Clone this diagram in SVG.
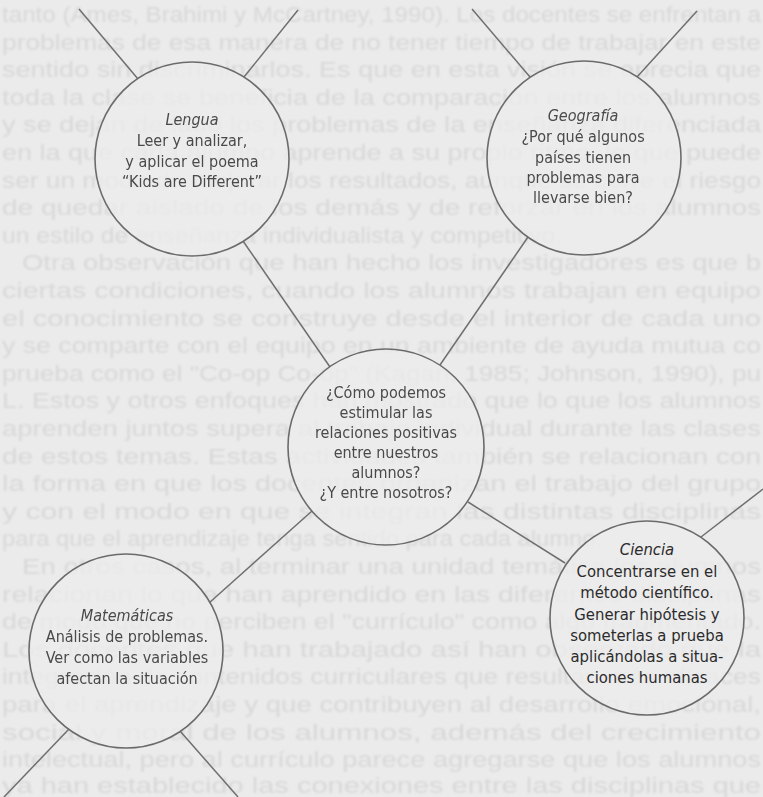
<svg xmlns="http://www.w3.org/2000/svg" width="763" height="797" viewBox="0 0 763 797">
<defs>
<style>
.bg{font-family:"Liberation Sans",Arial,sans-serif;font-size:22px;fill:#d8d8d8}
.ring{fill:#ececec;fill-opacity:0.75;stroke:#6b6b6b;stroke-width:1.6}
.edge{stroke:#6f6f6f;stroke-width:1.5;fill:none}
.lbl{font-family:"DejaVu Sans Condensed","DejaVu Sans",sans-serif;font-stretch:condensed;font-size:16px;fill:#4a4a4a;text-anchor:middle}
.lbl2{font-family:"DejaVu Sans Condensed","DejaVu Sans",sans-serif;font-stretch:condensed;font-size:16.5px;fill:#2b2b2b;text-anchor:middle}
.ttl{font-style:italic}
</style>
<filter id="soft" x="-5%" y="-5%" width="110%" height="110%"><feGaussianBlur stdDeviation="1.3"/></filter>
<filter id="scan" x="-5%" y="-5%" width="110%" height="110%"><feGaussianBlur stdDeviation="0.35"/></filter>
</defs>
<rect width="763" height="797" fill="#ebebeb"/>
<g id="page-text" class="bg" filter="url(#soft)">
<text x="2" y="22" textLength="759" lengthAdjust="spacingAndGlyphs">tanto (Ames, Brahimi y McCartney, 1990). Los docentes se enfrentan a</text>
<text x="2" y="50" textLength="759" lengthAdjust="spacingAndGlyphs">problemas de esa manera de no tener tiempo de trabajar en este</text>
<text x="2" y="77" textLength="759" lengthAdjust="spacingAndGlyphs">sentido sin discriminarlos. Es que en esta visión se aprecia que</text>
<text x="2" y="105" textLength="759" lengthAdjust="spacingAndGlyphs">toda la clase se beneficia de la comparación entre los alumnos</text>
<text x="2" y="132" textLength="759" lengthAdjust="spacingAndGlyphs">y se dejan de lado los problemas de la enseñanza diferenciada</text>
<text x="2" y="160" textLength="759" lengthAdjust="spacingAndGlyphs">en la que cada alumno aprende a su propio ritmo, lo que puede</text>
<text x="2" y="188" textLength="759" lengthAdjust="spacingAndGlyphs">ser un modo de mejorar los resultados, aunque se corre el riesgo</text>
<text x="2" y="215" textLength="759" lengthAdjust="spacingAndGlyphs">de quedar aislado de los demás y de reforzar en los alumnos</text>
<text x="2" y="243" textLength="560" lengthAdjust="spacingAndGlyphs">un estilo de enseñanza individualista y competitivo.</text>
<text x="22" y="270" textLength="739" lengthAdjust="spacingAndGlyphs">Otra observación que han hecho los investigadores es que b</text>
<text x="2" y="298" textLength="759" lengthAdjust="spacingAndGlyphs">ciertas condiciones, cuando los alumnos trabajan en equipo</text>
<text x="2" y="326" textLength="759" lengthAdjust="spacingAndGlyphs">el conocimiento se construye desde el interior de cada uno</text>
<text x="2" y="353" textLength="759" lengthAdjust="spacingAndGlyphs">y se comparte con el equipo en un ambiente de ayuda mutua co</text>
<text x="2" y="381" textLength="759" lengthAdjust="spacingAndGlyphs">prueba como el "Co-op Co-op" (Kagan, 1985; Johnson, 1990), pu</text>
<text x="2" y="408" textLength="759" lengthAdjust="spacingAndGlyphs">L. Estos y otros enfoques han mostrado que lo que los alumnos</text>
<text x="2" y="436" textLength="759" lengthAdjust="spacingAndGlyphs">aprenden juntos supera al trabajo individual durante las clases</text>
<text x="2" y="464" textLength="759" lengthAdjust="spacingAndGlyphs">de estos temas. Estas actividades también se relacionan con</text>
<text x="2" y="491" textLength="759" lengthAdjust="spacingAndGlyphs">la forma en que los docentes organizan el trabajo del grupo</text>
<text x="2" y="519" textLength="759" lengthAdjust="spacingAndGlyphs">y con el modo en que se integran las distintas disciplinas</text>
<text x="2" y="546" textLength="600" lengthAdjust="spacingAndGlyphs">para que el aprendizaje tenga sentido para cada alumno.</text>
<text x="22" y="574" textLength="739" lengthAdjust="spacingAndGlyphs">En otros casos, al terminar una unidad temática los alumnos</text>
<text x="2" y="602" textLength="759" lengthAdjust="spacingAndGlyphs">relacionan lo que han aprendido en las diferentes disciplinas</text>
<text x="2" y="629" textLength="759" lengthAdjust="spacingAndGlyphs">de modo que no perciben el "currículo" como algo fragmentado.</text>
<text x="2" y="657" textLength="759" lengthAdjust="spacingAndGlyphs">Los docentes que han trabajado así han observado que la</text>
<text x="2" y="684" textLength="759" lengthAdjust="spacingAndGlyphs">integración de contenidos curriculares que resultan más eficaces</text>
<text x="2" y="712" textLength="759" lengthAdjust="spacingAndGlyphs">para el aprendizaje y que contribuyen al desarrollo emocional,</text>
<text x="2" y="740" textLength="759" lengthAdjust="spacingAndGlyphs">social y moral de los alumnos, además del crecimiento</text>
<text x="2" y="767" textLength="759" lengthAdjust="spacingAndGlyphs">intelectual, pero al currículo parece agregarse que los alumnos</text>
<text x="2" y="793" textLength="759" lengthAdjust="spacingAndGlyphs">ya han establecido las conexiones entre las disciplinas que</text>
</g>
<g id="connectors" class="edge">
<line x1="79" y1="9" x2="138" y2="79"/>
<line x1="298" y1="10" x2="244" y2="77"/>
<line x1="472" y1="9" x2="530" y2="77"/>
<line x1="697" y1="11" x2="637" y2="77"/>
<line x1="243" y1="241" x2="330" y2="367"/>
<line x1="528" y1="237" x2="440" y2="365"/>
<line x1="312" y1="511" x2="209" y2="603"/>
<line x1="468" y1="502" x2="565" y2="563"/>
<line x1="701" y1="537" x2="763" y2="489"/>
<line x1="69" y1="729" x2="4" y2="797"/>
<line x1="180" y1="731" x2="238" y2="797"/>
</g>
<g id="node-lengua">
<circle class="ring" cx="192" cy="159" r="97"/>
<g class="lbl" filter="url(#scan)">
<text x="192" y="125" class="ttl">Lengua</text>
<text x="192" y="146">Leer y analizar,</text>
<text x="192" y="167">y aplicar el poema</text>
<text x="192" y="187">“Kids are Different”</text>
</g>
</g>
<g id="node-geografia">
<circle class="ring" cx="584" cy="158" r="97"/>
<g class="lbl" filter="url(#scan)">
<text x="583" y="121" class="ttl">Geografía</text>
<text x="583" y="142">¿Por qué algunos</text>
<text x="583" y="163">países tienen</text>
<text x="583" y="183">problemas para</text>
<text x="583" y="203">llevarse bien?</text>
</g>
</g>
<g id="node-centro">
<circle class="ring" cx="386" cy="447" r="98"/>
<g class="lbl" filter="url(#scan)">
<text x="386" y="398">¿Cómo podemos</text>
<text x="386" y="418">estimular las</text>
<text x="386" y="438">relaciones positivas</text>
<text x="386" y="458">entre nuestros</text>
<text x="386" y="478">alumnos?</text>
<text x="386" y="498">¿Y entre nosotros?</text>
</g>
</g>
<g id="node-matematicas">
<circle class="ring" cx="126" cy="651" r="97"/>
<g class="lbl" filter="url(#scan)">
<text x="127" y="621" class="ttl">Matemáticas</text>
<text x="127" y="642">Análisis de problemas.</text>
<text x="127" y="663">Ver como las variables</text>
<text x="127" y="684">afectan la situación</text>
</g>
</g>
<g id="node-ciencia">
<circle class="ring" cx="647" cy="618" r="97"/>
<g class="lbl2">
<text x="647" y="555" class="ttl">Ciencia</text>
<text x="647" y="577">Concentrarse en el</text>
<text x="647" y="598">método científico.</text>
<text x="647" y="620">Generar hipótesis y</text>
<text x="647" y="641">someterlas a prueba</text>
<text x="647" y="662">aplicándolas a situa-</text>
<text x="647" y="683">ciones humanas</text>
</g>
</g>
</svg>
